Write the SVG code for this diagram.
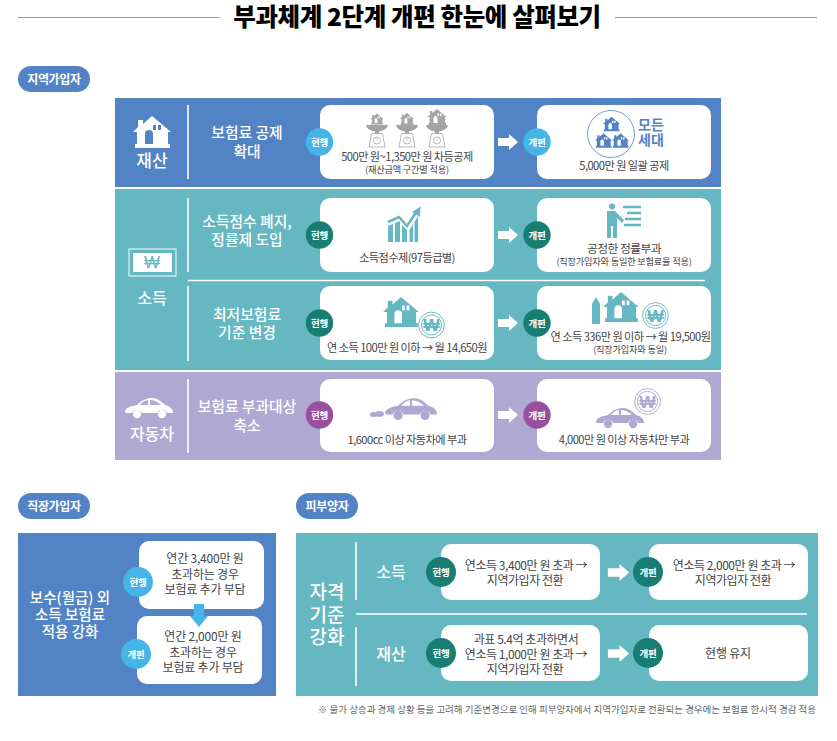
<svg xmlns="http://www.w3.org/2000/svg" width="837" height="741" viewBox="0 0 837 741">
<style>
text{font-family:"Noto Sans CJK KR","Noto Sans",sans-serif;text-anchor:middle}
.card{fill:#fff}
.t{font-size:11.2px;fill:#444;letter-spacing:-.55px}
.s{font-size:9.2px;fill:#444;letter-spacing:-.2px}
.c{font-size:12px;fill:#444;letter-spacing:-.2px}
.d{font-size:12px;fill:#444;letter-spacing:-.45px}
.h{font-size:14.800px;fill:#fff;font-weight:500}
.hb{font-size:16px;fill:#fff;font-weight:500}
.hc{font-size:19px;fill:#fff;font-weight:500}
.b{font-size:9.5px;fill:#fff;font-weight:700;letter-spacing:-.3px}
.p{font-size:12px;fill:#fff;font-weight:700;letter-spacing:-.3px}
.l{stroke:#fff;stroke-width:1.6;fill:none}
.blue{fill:#5284c5}.teal{fill:#65b7c2}.pur{fill:#aea8d2}
.cb{fill:#45b5e8}.cg{fill:#187d72}.cp{fill:#984f9e}
.won{font-family:"Liberation Sans",sans-serif;font-weight:700;fill:currentColor}
.mo{font-size:14px;font-weight:700;fill:#5284c5}
</style>
<defs>
<symbol id="house" viewBox="0 0 38 32" overflow="visible"><path fill="currentColor" fill-rule="evenodd" d="M19 0L38 16H35V28H37V32H2V28H4V16H0L5 11V4H10V8ZM12 28H20V18A4 4 0 0 0 12 18ZM20 9H23V14H20ZM25 9H28V14H25Z"/></symbol>
<symbol id="scale" viewBox="0 0 30 36" overflow="visible"><path fill="#a3a3a3" d="M4 14H26C25 18 21 20 17 20.500V22.500H13V20.500C9 20 5 18 4 14Z"/><path fill="none" stroke="#a6a6a6" stroke-width=".8" d="M9.500 22.500H20.500L23 36H7Z"/><circle cx="15" cy="29.500" r="3.500" fill="none" stroke="#a6a6a6" stroke-width=".8"/><path stroke="#a6a6a6" stroke-width=".8" d="M15 27.500V29.500"/></symbol>
<symbol id="arrowR" viewBox="0 0 20 16" overflow="visible"><path fill="#fff" d="M0 4H11V0L20 8L11 16V12H0Z"/></symbol>
<symbol id="car" viewBox="0 0 48 22" overflow="visible"><path fill="currentColor" fill-rule="evenodd" d="M0 15C0 11 6 9 12 8C17 3 22 1 27 1C33 1 37 5 40 8C45 9 48 12 48 16H42A5.500 5.500 0 0 0 32 16H17A5.500 5.500 0 0 0 7 16H1ZM15 8H23V3C20 3.500 17 5 15 8ZM25 3V8H36C33 5 29 3 25 3Z"/><circle cx="12" cy="17" r="4.200" fill="currentColor"/><circle cx="37" cy="17" r="4.200" fill="currentColor"/></symbol>
<symbol id="coin" viewBox="0 0 28 28" overflow="visible"><circle cx="14" cy="14" r="13.400" fill="#fff" stroke="currentColor" stroke-width="1"/><circle cx="14" cy="14" r="10.500" fill="none" stroke="currentColor" stroke-width="1"/><text x="14" y="20.500" class="won" style="font-size:18px">₩</text></symbol>
</defs>

<g id="title">
<path d="M18 17.500H220M615 17.500H817" stroke="#999" stroke-width="1"/>
<text x="417" y="26" style="font-size:24.500px;font-weight:900;fill:#000;letter-spacing:-.4px">부과체계 2단계 개편 한눈에 살펴보기</text>
</g>

<g id="pill-region"><rect x="18" y="66" width="72" height="26" rx="13" class="blue"/><text x="54" y="83.500" class="p">지역가입자</text></g>

<g id="panel-property">
<rect x="115" y="98" width="606" height="89" class="blue"/>
<use href="#house" x="133" y="116" width="38" height="32" color="#fff"/>
<text x="152" y="167" class="hb" style="font-size:17px">재산</text>
<text x="247" y="138" class="h">보험료 공제</text>
<text x="247" y="157" class="h">확대</text>
</g>
<g id="panel-income">
<rect x="115" y="189" width="606" height="181" class="teal"/>
<rect x="129" y="249" width="47" height="27" fill="none" stroke="#fff"/>
<rect x="133" y="253" width="39" height="19" fill="#fff"/>
<text x="152" y="268" class="won" style="font-size:17px;color:#65b7c2;font-weight:400">₩</text>
<text x="152" y="303.500" class="hb">소득</text>
<text x="247" y="227" class="h">소득점수 폐지,</text>
<text x="247" y="245" class="h">정률제 도입</text>
<text x="247" y="320" class="h">최저보험료</text>
<text x="247" y="338" class="h">기준 변경</text>
</g>
<g id="panel-car">
<rect x="115" y="372" width="606" height="88" class="pur"/>
<use href="#car" x="125" y="397" width="48" height="22" color="#fff"/>
<text x="152" y="439.500" class="hb">자동차</text>
<text x="247" y="412" class="h">보험료 부과대상</text>
<text x="247" y="431" class="h">축소</text>
</g>
<g id="panel-employee">
<rect x="18" y="533" width="258" height="163" class="blue"/>
<text x="70" y="603" class="h" style="font-size:14.500px">보수(월급) 외</text>
<text x="70" y="620" class="h" style="font-size:14.500px">소득 보험료</text>
<text x="70" y="637" class="h" style="font-size:14.500px">적용 강화</text>
</g>
<g id="panel-dependent">
<rect x="296" y="533" width="522" height="163" class="teal"/>
<text x="327" y="599" class="hc">자격</text>
<text x="327" y="622" class="hc">기준</text>
<text x="327" y="644" class="hc">강화</text>
<text x="391" y="578" class="hb">소득</text>
<text x="391" y="660" class="hb">재산</text>
</g>

<g id="node-property-now">
<rect x="320" y="105" width="174" height="74" rx="10" class="card"/>
<use href="#scale" x="362" y="111" width="30" height="36"/><use href="#house" x="370.500" y="113" width="13" height="12" color="#a6a6a6"/>
<use href="#scale" x="392" y="111" width="30" height="36"/><use href="#house" x="400" y="113" width="14" height="12" color="#a6a6a6"/>
<use href="#scale" x="422" y="111" width="30" height="36"/><use href="#house" x="427" y="109" width="20" height="16" color="#a6a6a6"/>
<text x="407" y="161" class="t">500만 원~1,350만 원 차등공제</text>
<text x="407" y="173" class="s">(재산금액 구간별 적용)</text>
<circle cx="319.500" cy="142" r="13.700" class="cb"/><text x="319.500" y="145.500" class="b">현행</text>
</g>
<g id="node-property-new">
<rect x="537" y="105" width="174" height="74" rx="10" class="card"/>
<circle cx="611" cy="134" r="23.500" fill="none" stroke="#5284c5" stroke-width=".8"/>
<use href="#house" x="603" y="116" width="17" height="16" color="#5284c5"/>
<use href="#house" x="595" y="133" width="17" height="15" color="#5284c5"/>
<use href="#house" x="612" y="133" width="17" height="15" color="#5284c5"/>
<text x="651" y="130" class="mo">모든</text>
<text x="651" y="145" class="mo">세대</text>
<text x="624" y="170" class="t">5,000만 원 일괄 공제</text>
<circle cx="537" cy="142" r="13.700" class="cb"/><text x="537" y="145.500" class="b">개편</text>
</g>

<g id="node-income1-now">
<rect x="320" y="198" width="174" height="74" rx="10" class="card"/>
<path fill="none" stroke="#65b7c2" stroke-width="2.600" d="M388 222L399 217L407 226L417 211"/>
<path fill="#65b7c2" d="M412 212L420.500 206.500L420 217Z"/>
<path fill="#65b7c2" d="M388 226L393 224V242H388ZM395 223L400 221V242H395ZM402 225L407 230V242H402ZM409.500 230L413 224V242H409.500ZM414.500 222L418 216V242H414.500Z"/>
<text x="407" y="262" class="t">소득점수제(97등급별)</text>
<circle cx="319.500" cy="235" r="13.700" class="cg"/><text x="319.500" y="238.500" class="b">현행</text>
</g>
<g id="node-income1-new">
<rect x="537" y="198" width="174" height="74" rx="10" class="card"/>
<circle cx="612" cy="206.500" r="3" fill="#65b7c2"/>
<path fill="#65b7c2" d="M607 211H615L624 220L622 223L617 218V238H613V226H611V238H607Z"/>
<path stroke="#65b7c2" stroke-width="2.400" d="M623 207H641M627 213H641M625 219H641M624 225H641"/>
<text x="624" y="253" class="t" style="font-size:11.800px">공정한 정률부과</text>
<text x="624" y="265" class="s">(직장가입자와 동일한 보험료율 적용)</text>
<circle cx="537" cy="235" r="13.700" class="cg"/><text x="537" y="238.500" class="b">개편</text>
</g>

<g id="node-income2-now">
<rect x="320" y="286" width="174" height="74" rx="10" class="card"/>
<use href="#house" x="383" y="297" width="36" height="30" color="#65b7c2"/>
<use href="#coin" x="418" y="311.500" width="27" height="27" color="#65b7c2"/>
<text x="407" y="352" class="t">연 소득 100만 원 이하 → 월 14,650원</text>
<circle cx="319.500" cy="323" r="13.700" class="cg"/><text x="319.500" y="326.500" class="b">현행</text>
</g>
<g id="node-income2-new">
<rect x="537" y="286" width="174" height="74" rx="10" class="card"/>
<path fill="#65b7c2" d="M596 297L600 304V324H592V304Z"/>
<use href="#house" x="603" y="292" width="36" height="30" color="#65b7c2"/>
<use href="#coin" x="642" y="302" width="27" height="27" color="#65b7c2"/>
<text x="630.500" y="341" class="t">연 소득 336만 원 이하 → 월 19,500원</text>
<text x="630" y="353" class="s">(직장가입자와 동일)</text>
<circle cx="537" cy="323" r="13.700" class="cg"/><text x="537" y="326.500" class="b">개편</text>
</g>

<g id="node-car-now">
<rect x="320" y="379" width="174" height="73" rx="10" class="card"/>
<use href="#car" x="385" y="397" width="52" height="24" color="#aea8d2"/>
<ellipse cx="373.500" cy="414.500" rx="3.500" ry="2.500" fill="#aea8d2"/><ellipse cx="379.500" cy="414" rx="4.500" ry="3" fill="#aea8d2"/>
<text x="407" y="444" class="t">1,600cc 이상 자동차에 부과</text>
<circle cx="319.500" cy="415" r="13.700" class="cp"/><text x="319.500" y="418.500" class="b">현행</text>
</g>
<g id="node-car-new">
<rect x="537" y="379" width="174" height="73" rx="10" class="card"/>
<use href="#car" x="596" y="406.500" width="48" height="23" color="#aea8d2"/>
<use href="#coin" x="634" y="388" width="27" height="27" color="#aea8d2"/>
<text x="624" y="444" class="t">4,000만 원 이상 자동차만 부과</text>
<circle cx="537" cy="415" r="13.700" class="cp"/><text x="537" y="418.500" class="b">개편</text>
</g>

<g id="pill-employee"><rect x="18" y="493" width="72" height="26" rx="13" class="blue"/><text x="54" y="510.500" class="p">직장가입자</text></g>
<g id="node-employee-now">
<rect x="139" y="541" width="125" height="68" rx="10" class="card"/>
<text x="205" y="563" class="c">연간 3,400만 원</text><text x="205" y="578.500" class="c">초과하는 경우</text><text x="205" y="593.500" class="c">보험료 추가 부담</text>
<circle cx="138" cy="582" r="15" class="cb"/><text x="138" y="585.500" class="b">현행</text>
</g>
<g id="node-employee-new">
<rect x="137" y="616" width="125" height="68" rx="10" class="card"/>
<text x="203" y="641" class="c">연간 2,000만 원</text><text x="203" y="656.500" class="c">초과하는 경우</text><text x="203" y="672" class="c">보험료 추가 부담</text>
<circle cx="136" cy="654" r="15" class="cb"/><text x="136" y="657.500" class="b">개편</text>
</g>

<g id="pill-dependent"><rect x="296" y="493" width="62" height="26" rx="13" class="blue"/><text x="327" y="510.500" class="p">피부양자</text></g>
<g id="node-dep1-now">
<rect x="441" y="544" width="159" height="56" rx="10" class="card"/>
<text x="526" y="570" class="d">연소득 3,400만 원 초과 →</text><text x="525" y="585" class="d">지역가입자 전환</text>
<circle cx="441" cy="572" r="15" class="cg"/><text x="441" y="575.500" class="b">현행</text>
</g>
<g id="node-dep1-new">
<rect x="649" y="544" width="159" height="56" rx="10" class="card"/>
<text x="734" y="570" class="d">연소득 2,000만 원 초과 →</text><text x="733" y="585" class="d">지역가입자 전환</text>
<circle cx="648" cy="572" r="15" class="cg"/><text x="648" y="575.500" class="b">개편</text>
</g>
<g id="node-dep2-now">
<rect x="441" y="625" width="159" height="56" rx="10" class="card"/>
<text x="526" y="644" class="d">과표 5.4억 초과하면서</text><text x="526" y="659" class="d">연소득 1,000만 원 초과 →</text><text x="525" y="674" class="d">지역가입자 전환</text>
<circle cx="441" cy="653" r="15" class="cg"/><text x="441" y="656.500" class="b">현행</text>
</g>
<g id="node-dep2-new">
<rect x="649" y="625" width="159" height="56" rx="10" class="card"/>
<text x="728" y="658" class="c">현행 유지</text>
<circle cx="648" cy="653" r="15" class="cg"/><text x="648" y="656.500" class="b">개편</text>
</g>

<g id="connectors">
<path class="l" d="M188 105V179M188 198V272M188 286V361M188 379V453M188 280.500H705"/>
<path class="l" d="M356 542V600M356 627V686M356 614H807"/>
<path fill="#45b5e8" d="M194 604H204V616H208L199 627L190 616H194Z"/>
<use href="#arrowR" x="498" y="134" width="20" height="16"/>
<use href="#arrowR" x="498" y="227" width="20" height="16"/>
<use href="#arrowR" x="498" y="315" width="20" height="16"/>
<use href="#arrowR" x="498" y="407" width="20" height="16"/>
<use href="#arrowR" x="607" y="564" width="23" height="17"/>
<use href="#arrowR" x="607" y="645" width="23" height="17"/>
</g>
<text id="footnote" x="816" y="713" style="font-size:9.500px;fill:#666;text-anchor:end;letter-spacing:0">※ 물가 상승과 경제 상황 등을 고려해 기준변경으로 인해 피부양자에서 지역가입자로 전환되는 경우에는 보험료 한시적 경감 적용</text>
</svg>
